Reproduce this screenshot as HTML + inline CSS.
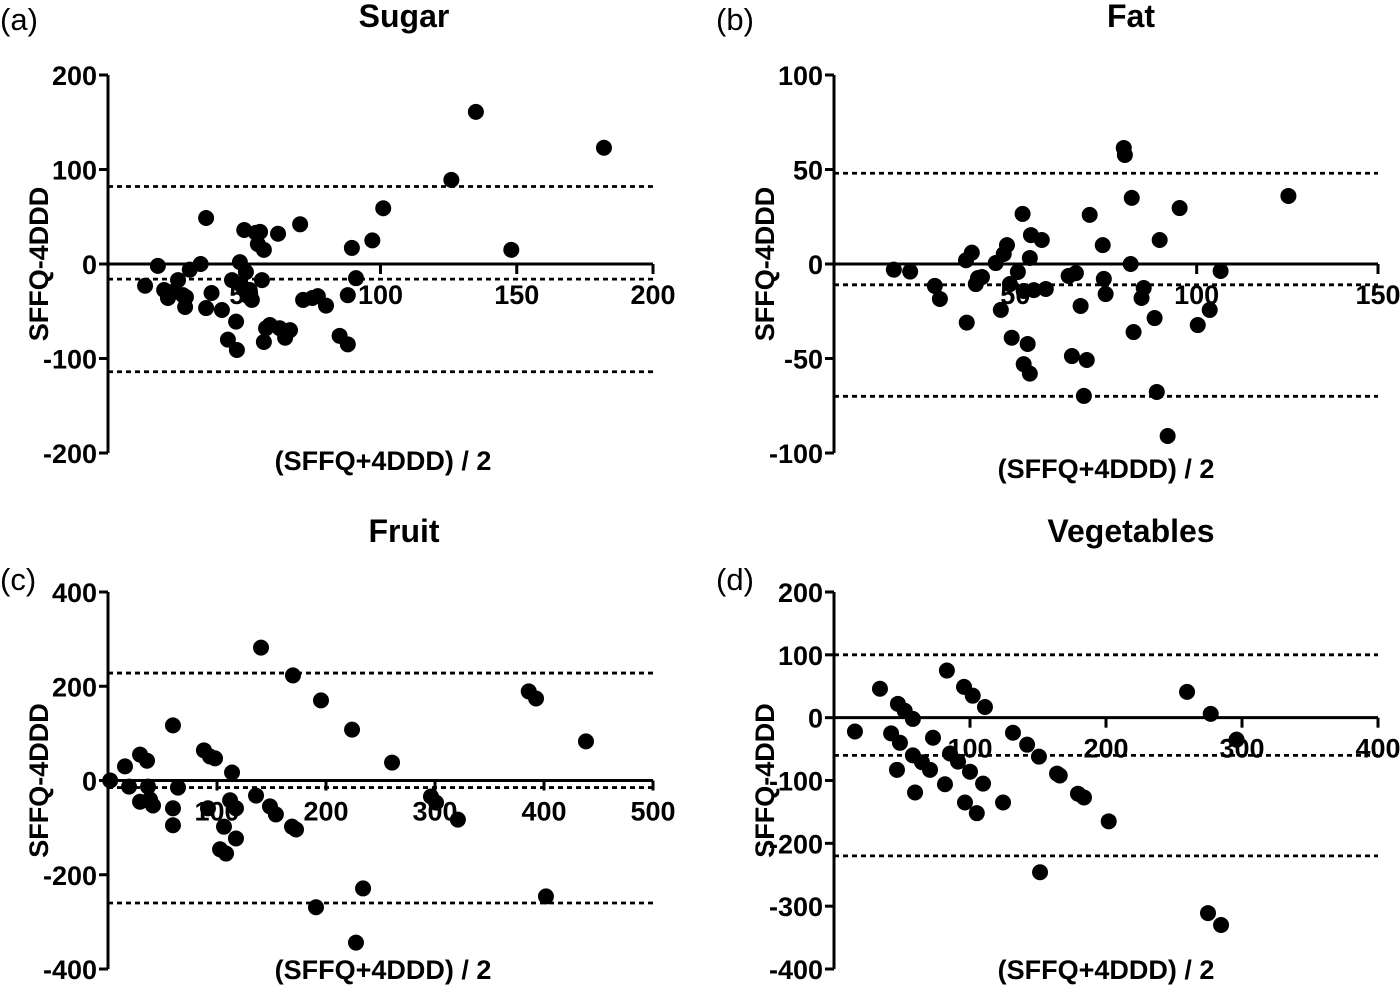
<!DOCTYPE html>
<html><head><meta charset="utf-8"><style>
html,body{margin:0;padding:0;background:#fff;}
svg{display:block;font-family:"Liberation Sans",Arial,sans-serif;}
.t{font-weight:bold;font-size:27px;}
.ttl{font-weight:bold;font-size:32px;}
.pl{font-size:31px;}
</style></head><body>
<svg id="chart" width="1400" height="987" viewBox="0 0 1400 987"></svg>
<script>
// ---- data ----
const sugarX=[13.6,18.3,20.6,22,23.5,25.7,27.5,28.6,28.3,30,34,36,36,38,41.8,44,45.5,47,47.3,48.4,48.8,50,50.6,51.4,52,52.8,54.3,55,55.8,56.5,57.2,57.2,58,59.4,62.4,63,65,66.8,70.5,71.6,75,77,80,85,88,88,89.5,91,97,101,126,135,148,182];
const sugarY=[-23,-2,-27.5,-36,-29.6,-17,-33,-35,-45.5,-6,0,48.7,-46.6,-30.7,-48.7,-80,-17,-61,-91,2,-22,36,-8.5,-34,-27.5,-38,33,21,34,-17,15,-82.5,-68,-64.5,32,-68,-78,-70,42,-38,-36,-34,-44,-76,-85,-33,17,-15,25,59,89,161,15,123];
const fatX=[16.5,21,27.8,29.2,36.4,36.6,38,39.1,39.7,40.8,44.6,46,46.8,47.7,48.5,49,50.7,52,52.3,52.3,53.4,54,54,54.3,55.1,57.3,58.4,64.7,65.6,66.7,68,69.7,68.9,70.5,74.1,74.4,74.9,79.9,80.2,81.8,82.1,82.6,84.8,85.4,88.4,89,89.8,92,95.3,100.3,103.6,106.6,125.3];
const fatY=[-3,-4,-11.6,-18.5,2,-31,6,-10.6,-7.4,-6.9,0.5,-24.3,5.3,10,-10.6,-39,-4.2,26.5,-14.3,-53,-42.3,-58,3.2,15.3,-13.8,12.7,-13.2,-6.3,-48.7,-4.8,-22.2,-50.8,-69.8,26,10,-7.9,-15.9,61.4,57.7,0,35,-36,-18,-12.7,-28.6,-67.7,12.7,-91,29.6,-32.3,-24.3,-3.7,36];
const fruitX=[2,15.6,19.3,29.4,29.4,35.8,36.7,38.5,41.3,59.6,59.6,59.6,64.2,88,91.7,93.6,98.2,102.8,106.4,108.3,112,113.8,117.4,117.4,135.8,140.4,148.6,154,168.8,172.5,169.7,190.8,195.4,223.9,227.5,234,260.6,296.3,301,321,386,392.7,401.8,438.5];
const fruitY=[0,30,-13,-45,55,42,-13,-40,-53,117,-95,-59,-15,64,-59,51,47,-146,-98,-155,-42,17,-59,-123,-32,282,-55,-72,-98,-104,223,-269,170,108,-344,-229,38,-34,-47,-83,189,174,-246,83];
const vegX=[33.8,15.4,47,52,58,42,48.5,46.3,59.6,58,64.7,70.6,72.8,83,81.6,85.3,91.2,100,96.3,105,95.6,102,111,109.6,124.3,131.6,142,150.7,164,166,179.4,183.8,202,151.5,259.6,277,296,275,284.6];
const vegY=[46,-22,22,11,-2,-25,-40,-83,-119,-60,-71,-83,-32,75,-106,-57,-70,-86,-135,-152,49,35,17,-105,-135,-24,-43,-62,-89,-92,-121,-127,-165,-246,41,6,-35,-311,-330];
const sugarXTicks=[50,100,150,200], sugarYTicks=[200,100,0,-100,-200], sugarLoA=[82,-16,-114];
const fatXTicks=[50,100,150], fatYTicks=[100,50,0,-50,-100], fatLoA=[48,-11,-70];
const fruitXTicks=[100,200,300,400,500], fruitYTicks=[400,200,0,-200,-400], fruitLoA=[228,-15,-260];
const vegXTicks=[100,200,300,400], vegYTicks=[200,100,0,-100,-200,-300,-400], vegLoA=[100,-60,-220];

const svg=document.getElementById('chart');
const NS='http://www.w3.org/2000/svg';
function mk(tag,attrs,parent){const e=document.createElementNS(NS,tag);for(const k in attrs)e.setAttribute(k,attrs[k]);(parent||svg).appendChild(e);return e;}

function panel(o){
  const g=mk('g',{});
  
  
  const sx=v=>o.x0+(v-0)/o.xmax*(o.x1-o.x0);
  const sy=v=>o.yTop+(o.ymax-v)/(o.ymax-o.ymin)*(o.yBot-o.yTop);
  const ya=mk('line',{x1:o.x0,y1:o.yTop,x2:o.x0,y2:o.yBot,stroke:'#000','stroke-width':3},g);
  
  
  o.yTicks.forEach(v=>{
    mk('line',{x1:o.x0-9,y1:sy(v),x2:o.x0,y2:sy(v),stroke:'#000','stroke-width':3},g);
    const t=mk('text',{x:o.x0-11,y:sy(v)+10,'text-anchor':'end',class:'t'},g);
    t.textContent=v;
    
    
  });
  const xa=mk('line',{x1:o.x0,y1:sy(0),x2:o.x1,y2:sy(0),stroke:'#000','stroke-width':3},g);
  
  
  o.xTicks.forEach(v=>{
    mk('line',{x1:sx(v),y1:sy(0),x2:sx(v),y2:sy(0)+10,stroke:'#000','stroke-width':3},g);
    const t=mk('text',{x:sx(v),y:sy(0)+40,'text-anchor':'middle',class:'t'},g);
    t.textContent=v;
    
    
  });
  o.loa.forEach(v=>{
    const l=mk('line',{x1:o.x0,y1:sy(v),x2:o.x1,y2:sy(v),stroke:'#000','stroke-width':2.8,'stroke-dasharray':'5 4'},g);
    
    
  });
  o.xs.forEach((x,i)=>{
    const c=mk('circle',{cx:sx(x),cy:sy(o.ys[i]),r:8,fill:'#000'},g);
    
    
  });
  const tt=mk('text',{x:o.titleX,y:o.titleY,'text-anchor':'middle',class:'ttl'},g);
  tt.textContent=o.title;
  
  
  const pl=mk('text',{x:o.plX,y:o.plY,class:'pl'},g);
  pl.textContent=o.pl;
  
  
  const yl=mk('text',{x:0,y:0,'text-anchor':'middle',class:'t',transform:'translate('+(o.x0-60)+','+((o.yTop+o.yBot)/2)+') rotate(-90)'},g);
  yl.textContent='SFFQ-4DDD';
  
  
  const xl=mk('text',{x:o.xlX,y:o.xlY,'text-anchor':'middle',class:'t'},g);
  xl.textContent='(SFFQ+4DDD) / 2';
  
  
}
panel({name:'sugar',x0:108,x1:653,xmax:200,yTop:75,yBot:453,ymax:200,ymin:-200,xTicks:sugarXTicks,yTicks:sugarYTicks,loa:sugarLoA,xs:sugarX,ys:sugarY,title:'Sugar',titleX:404,titleY:27,pl:'(a)',plX:0,plY:30,xlX:383,xlY:470});
panel({name:'fat',x0:834,x1:1378,xmax:150,yTop:75,yBot:453,ymax:100,ymin:-100,xTicks:fatXTicks,yTicks:fatYTicks,loa:fatLoA,xs:fatX,ys:fatY,title:'Fat',titleX:1131,titleY:27,pl:'(b)',plX:716,plY:30,xlX:1106,xlY:478});
panel({name:'fruit',x0:108,x1:653,xmax:500,yTop:592,yBot:969,ymax:400,ymin:-400,xTicks:fruitXTicks,yTicks:fruitYTicks,loa:fruitLoA,xs:fruitX,ys:fruitY,title:'Fruit',titleX:404,titleY:542,pl:'(c)',plX:0,plY:590,xlX:383,xlY:979});
panel({name:'vegetables',x0:834,x1:1378,xmax:400,yTop:592,yBot:969,ymax:200,ymin:-400,xTicks:vegXTicks,yTicks:vegYTicks,loa:vegLoA,xs:vegX,ys:vegY,title:'Vegetables',titleX:1131,titleY:542,pl:'(d)',plX:716,plY:590,xlX:1106,xlY:979});
</script>
</body></html>
